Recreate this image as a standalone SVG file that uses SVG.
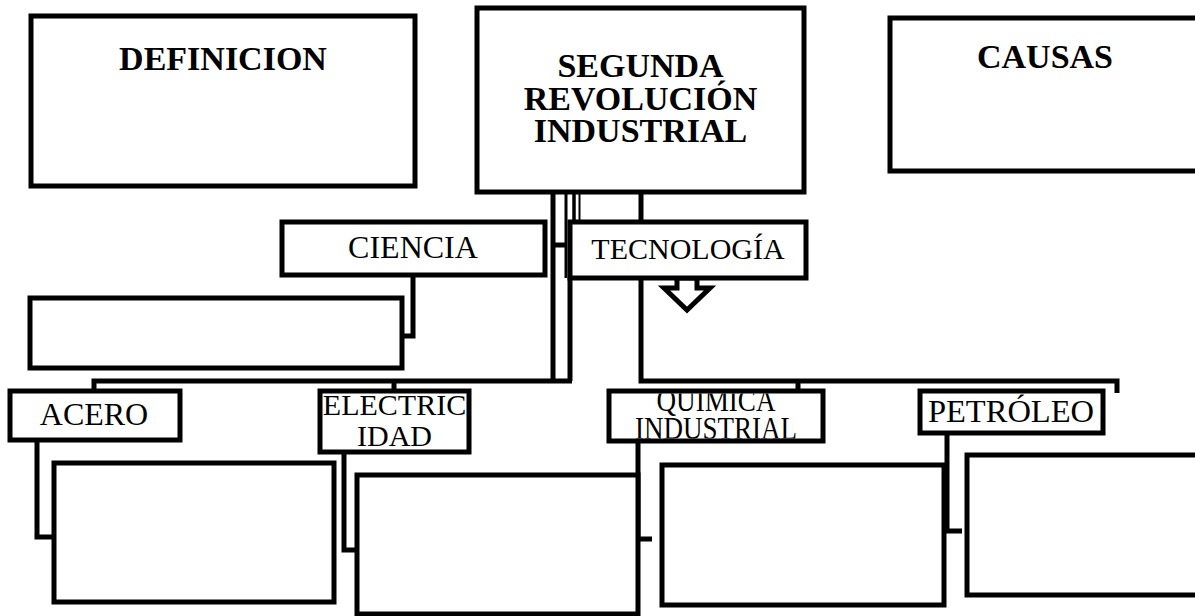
<svg xmlns="http://www.w3.org/2000/svg" width="1195" height="616" viewBox="0 0 1195 616">
<style>
.box{fill:#fff;stroke:#000;stroke-width:5}
.ln{fill:none;stroke:#000;stroke-width:5}
.t{font-family:"Liberation Serif","Times New Roman",serif;fill:#000;text-anchor:middle}
.b{font-weight:bold;font-size:34px}
</style>
<defs>
<clipPath id="qclip"><rect x="611.5" y="393.5" width="209" height="45"/></clipPath>
</defs>
<rect width="1195" height="616" fill="#fff"/>
<g id="connectors">
<polyline class="ln" points="413,277 413,336 403,336"/>
<line class="ln" x1="553" y1="192" x2="553" y2="381"/>
<line class="ln" x1="566" y1="192" x2="566" y2="278" style="stroke-width:3"/>
<line class="ln" x1="553" y1="245" x2="566" y2="245"/>
<line class="ln" x1="570" y1="278" x2="570" y2="381"/>
<line class="ln" x1="574" y1="192" x2="574" y2="222" style="stroke-width:3.5"/>
<line class="ln" x1="579.5" y1="192" x2="579.5" y2="222" style="stroke-width:2"/>
<line class="ln" x1="641" y1="192" x2="641" y2="222"/>
<polyline class="ln" points="94,391 94,381 572,381"/>
<line class="ln" x1="394" y1="381" x2="394" y2="391"/>
<polyline class="ln" points="641,278 641,381 1117,381 1117,393"/>
<line class="ln" x1="798" y1="381" x2="798" y2="391"/>
<polyline class="ln" points="37,442 37,537 54,537"/>
<polyline class="ln" points="344,454 344,550 357,550"/>
<polyline class="ln" points="638,443 638,539 652,539"/>
<polyline class="ln" points="947,435 947,531 962,531"/>
<polygon class="box" points="677,278 677,288 664,288 687,310 710,288 697,288 697,278"/>
</g>
<g id="definicion">
<rect class="box" x="31" y="16" width="384" height="170"/>
<text class="t b" x="223" y="70">DEFINICION</text>
</g>
<g id="segunda">
<rect class="box" x="477" y="8" width="327" height="184"/>
<text class="t b" x="640.5" y="77">SEGUNDA</text>
<text class="t b" x="640.5" y="110">REVOLUCIÓN</text>
<text class="t b" x="640.5" y="142">INDUSTRIAL</text>
</g>
<g id="causas">
<rect class="box" x="890" y="18" width="312" height="153"/>
<text class="t b" x="1045" y="68">CAUSAS</text>
</g>
<g id="ciencia">
<rect class="box" x="282" y="222" width="263" height="53"/>
<text class="t" x="413" y="258" font-size="32">CIENCIA</text>
</g>
<g id="tecnologia">
<rect class="box" x="570" y="222" width="236" height="56"/>
<text class="t" x="688" y="259" font-size="30">TECNOLOGÍA</text>
</g>
<g id="ciencia-detalle">
<rect class="box" x="30" y="298" width="372" height="70"/>
</g>
<g id="acero">
<rect class="box" x="10" y="391" width="170" height="49"/>
<text class="t" x="94" y="425" font-size="32">ACERO</text>
</g>
<g id="electricidad">
<rect class="box" x="320" y="391" width="149" height="61"/>
<text class="t" x="394.5" y="415" font-size="30">ELECTRIC</text>
<text class="t" x="394.5" y="446" font-size="30">IDAD</text>
</g>
<g id="quimica">
<rect class="box" x="609" y="391" width="214" height="50"/>
<g clip-path="url(#qclip)">
<text class="t" x="716" y="411" font-size="31" textLength="119" lengthAdjust="spacingAndGlyphs">QUÍMICA</text>
<text class="t" x="716" y="439" font-size="31" textLength="162" lengthAdjust="spacingAndGlyphs">INDUSTRIAL</text>
</g>
</g>
<g id="petroleo">
<rect class="box" x="920" y="391" width="183" height="42"/>
<text class="t" x="1011" y="422" font-size="32.5">PETRÓLEO</text>
</g>
<g id="acero-detalle"><rect class="box" x="54" y="463" width="280" height="139"/></g>
<g id="electricidad-detalle"><rect class="box" x="357" y="475" width="281" height="139"/></g>
<g id="quimica-detalle"><rect class="box" x="662" y="465" width="282" height="140"/></g>
<g id="petroleo-detalle"><rect class="box" x="967" y="455" width="240" height="140"/></g>
</svg>
